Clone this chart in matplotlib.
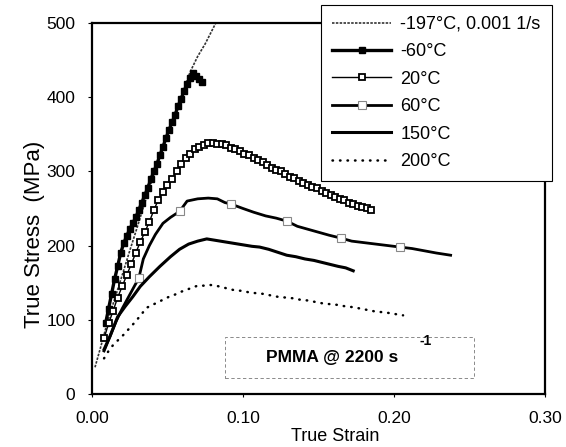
import matplotlib
matplotlib.use("Agg")
import matplotlib.pyplot as plt
from matplotlib.patches import Rectangle

plt.rcParams['font.family'] = ['Liberation Sans', 'DejaVu Sans']

# -197°C, 0.001 1/s (quasi-static)
strain_m197 = [0.002, 0.006, 0.010, 0.015, 0.020, 0.025, 0.030, 0.035, 0.040, 0.045,
               0.050, 0.055, 0.060, 0.065, 0.070, 0.075, 0.082]
stress_m197 = [36, 65, 95, 128, 160, 193, 225, 258, 290, 320,
               350, 378, 405, 434, 455, 472, 500]

# -60°C
strain_m60 = [0.009, 0.011, 0.013, 0.015, 0.017, 0.019, 0.021, 0.023, 0.025, 0.027,
              0.029, 0.031, 0.033, 0.035, 0.037, 0.039, 0.041, 0.043, 0.045, 0.047,
              0.049, 0.051, 0.053, 0.055, 0.057, 0.059, 0.061, 0.063, 0.065, 0.067,
              0.069, 0.071, 0.073]
stress_m60 = [95, 115, 135, 155, 172, 190, 203, 213, 222, 230,
              238, 248, 258, 268, 278, 290, 300, 310, 322, 333,
              345, 356, 366, 376, 388, 398, 408, 418, 426, 432,
              428, 424, 420]

# 20°C
strain_20 = [0.008, 0.011, 0.014, 0.017, 0.020, 0.023, 0.026, 0.029, 0.032, 0.035,
             0.038, 0.041, 0.044, 0.047, 0.050, 0.053, 0.056, 0.059, 0.062, 0.065,
             0.068, 0.071, 0.074, 0.077, 0.080, 0.083, 0.086, 0.089, 0.092, 0.095,
             0.098, 0.101, 0.104, 0.107, 0.110, 0.113, 0.116, 0.119, 0.122, 0.125,
             0.128, 0.131, 0.134, 0.137, 0.140, 0.143, 0.146, 0.149, 0.152, 0.155,
             0.158, 0.161, 0.164, 0.167, 0.170, 0.173, 0.176, 0.179, 0.182, 0.185]
stress_20 = [75, 95, 112, 130, 145, 160, 175, 190, 205, 218,
             232, 248, 262, 272, 282, 290, 300, 310, 318, 324,
             330, 333, 336, 338, 338, 337, 337, 336, 332, 330,
             327, 323, 322, 318, 315, 312, 308, 305, 302, 300,
             296, 293, 291, 287, 285, 282, 279, 277, 274, 271,
             268, 266, 263, 261, 258, 256, 254, 252, 250, 248]

# 60°C
strain_60 = [0.008, 0.012, 0.016, 0.020, 0.024, 0.028, 0.031, 0.034, 0.038, 0.042,
             0.047, 0.052, 0.058, 0.063, 0.070, 0.077, 0.083, 0.088, 0.092, 0.100,
             0.107, 0.115, 0.122, 0.129, 0.136, 0.143, 0.150, 0.157, 0.165, 0.172,
             0.180, 0.188, 0.196, 0.204, 0.212, 0.220, 0.228, 0.2375]
stress_60 = [58, 78, 98, 115, 130, 145, 156, 182, 200, 215,
             230, 238, 246, 260, 263, 264, 263, 258, 256, 250,
             245, 240, 237, 233, 226, 222, 218, 214, 210, 206,
             204, 202, 200, 198, 196, 193, 190, 187]

# 150°C
strain_150 = [0.008, 0.012, 0.017, 0.022, 0.027, 0.032, 0.038, 0.045, 0.052, 0.058,
              0.064, 0.070, 0.076, 0.082, 0.088, 0.094, 0.100, 0.106, 0.111, 0.117,
              0.123, 0.129, 0.135, 0.141, 0.147, 0.151, 0.157, 0.163, 0.168, 0.173]
stress_150 = [60, 78, 104, 118, 131, 145, 158, 172, 185, 195,
              202, 206, 209, 207, 205, 203, 201, 199, 198, 195,
              191, 187, 185, 182, 180, 178, 175, 172, 170, 166]

# 200°C
strain_200 = [0.008, 0.011, 0.014, 0.018, 0.021, 0.025, 0.029, 0.033, 0.036, 0.040,
              0.044, 0.047, 0.051, 0.055, 0.058, 0.062, 0.066, 0.070, 0.074, 0.078,
              0.082, 0.086, 0.090, 0.094, 0.099, 0.104, 0.108, 0.113, 0.118, 0.123,
              0.128, 0.133, 0.138, 0.143, 0.148, 0.153, 0.158, 0.163, 0.168, 0.173,
              0.178, 0.183, 0.188, 0.194, 0.200, 0.206]
stress_200 = [48, 58, 66, 74, 80, 89, 98, 108, 116, 120,
              124, 127, 131, 134, 137, 140, 143, 146, 146, 147,
              146, 144, 142, 140, 139, 137, 136, 135, 133, 131,
              130, 129, 127, 126, 124, 122, 121, 120, 118, 117,
              115, 113, 111, 110, 108, 106]

fig = plt.figure(figsize=(5.66, 4.47), dpi=100)
ax = fig.add_axes([0.1625, 0.1186, 0.8004, 0.830])

ax.plot(strain_m197, stress_m197, color='#333333', lw=1.2, ls=(0, (1.5, 0.8)),
        label='-197°C, 0.001 1/s')
ax.plot(strain_m60, stress_m60, color='black', lw=2.4, marker='s', ms=4.5,
        label='-60°C')
ax.plot(strain_20, stress_20, color='black', lw=1.0, marker='s', ms=4.5,
        mfc='white', mec='black', mew=1.3, label='20°C')
ax.plot(strain_60, stress_60, color='black', lw=2.0, marker='s', ms=6,
        mfc='white', mec='#888888', mew=0.8, markevery=[6, 12, 18, 23, 28, 33],
        label='60°C')
ax.plot(strain_150, stress_150, color='black', lw=2.2, label='150°C')
ax.plot(strain_200, stress_200, color='black', lw=1.8, ls=(0, (0.2, 2.8)),
        dash_capstyle='round', label='200°C')

ax.set_xlim(0, 0.30)
ax.set_ylim(0, 500)
ax.set_xticks([0.0, 0.1, 0.2, 0.3])
ax.set_xticklabels(['0.00', '0.10', '0.20', '0.30'])
ax.set_yticks([0, 100, 200, 300, 400, 500])
ax.tick_params(axis='y', length=3, width=0.8, pad=9, labelsize=12.5)
ax.tick_params(axis='x', length=2, width=0.8, pad=10, labelsize=12.5)
for s in ax.spines.values():
    s.set_linewidth(1.6)

ax.set_ylabel('True Stress  (MPa)', fontsize=16)
ax.yaxis.set_label_coords(-0.104, 0.43)
ax.set_xlabel('True Strain', fontsize=13)
ax.xaxis.set_label_coords(0.536, -0.092)

# annotation box
ax.add_patch(Rectangle((0.0883, 21.6), 0.1646, 55.2, fill=False,
                       ls=(0, (4, 3)), lw=0.6, edgecolor='#777777'))
ax.text(0.1587, 48.5, 'PMMA @ 2200 s', fontsize=12.5, fontweight='bold',
        ha='center', va='center')
ax.text(0.221, 72, '-1', fontsize=10, fontweight='bold', ha='center', va='center')

leg = ax.legend(loc='upper left', bbox_to_anchor=(321 / 566, 1 - 5 / 447),
                bbox_transform=fig.transFigure, fontsize=13, frameon=True,
                fancybox=False, edgecolor='black', framealpha=1,
                handlelength=3.3, handletextpad=0.5, labelspacing=0.58,
                borderpad=0.6, borderaxespad=0)
leg.get_frame().set_linewidth(0.8)

fig.savefig('out.png', dpi=100)
